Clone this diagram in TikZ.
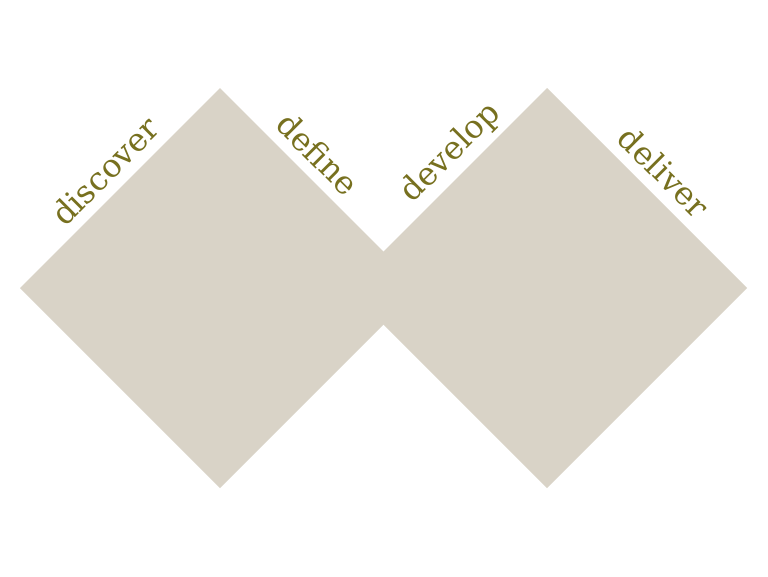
\documentclass[tikz,border=0pt]{standalone}
\usepackage{fontspec}
\setmainfont{DejaVu Serif}
\definecolor{diafill}{HTML}{D9D3C7}
\definecolor{labelcol}{HTML}{77701F}
\begin{document}
\begin{tikzpicture}[x=1pt,y=-1pt,
  diamondshape/.style={fill=diafill,draw=none},
  phase/.style={text=labelcol,font=\fontsize{32}{36}\selectfont,inner sep=0pt}]
\useasboundingbox (0,0) rectangle (768,576);
\fill[diamondshape] (20,288) -- (220,88) -- (420,288) -- (220,488) -- cycle;
\fill[diamondshape] (347,288) -- (547,88) -- (747,288) -- (547,488) -- cycle;
\node[phase,rotate=45] (discover) at (105,171) {discover};
\node[phase,rotate=-45] (define) at (318,154) {define};
\node[phase,rotate=45] (develop) at (451,153) {develop};
\node[phase,rotate=-45] (deliver) at (664,172) {deliver};
\end{tikzpicture}
\end{document}
